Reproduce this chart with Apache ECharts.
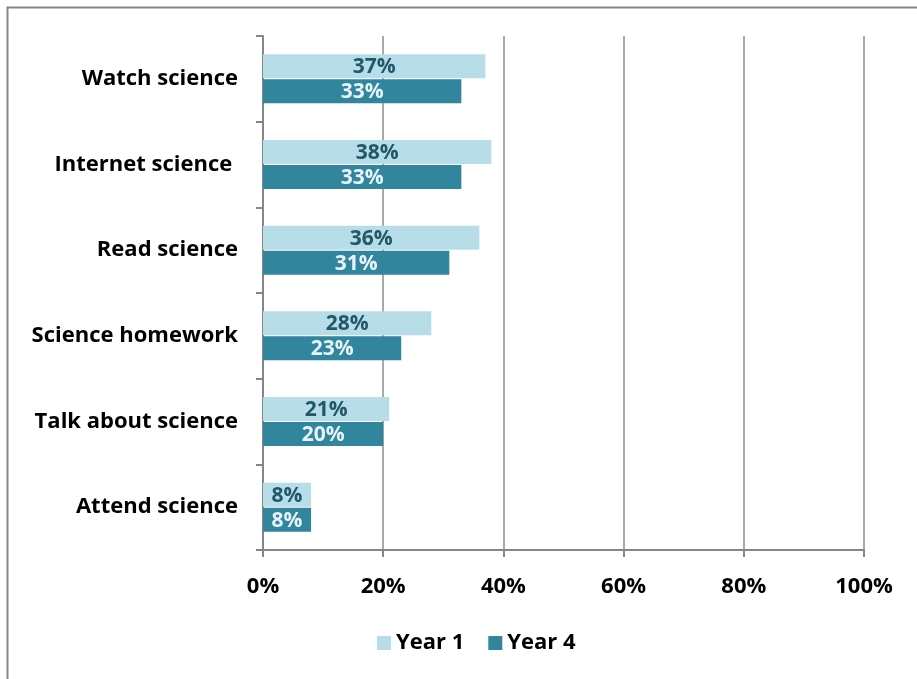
<!DOCTYPE html>
<html>
<head>
<meta charset="utf-8">
<script src="https://cdn.jsdelivr.net/npm/echarts@6/dist/echarts.min.js"></script>
<style>
  html, body { margin: 0; padding: 0; background: #fff; }
  #chart { width: 917px; height: 679px; }
</style>
</head>
<body>
<div id="chart"></div>
<script>
const categories = ['Watch science', 'Internet science ', 'Read science', 'Science homework', 'Talk about science', 'Attend science'];
const year1 = [37, 38, 36, 28, 21, 8];
const year4 = [33, 33, 31, 23, 20, 8];
const xTicks = [0, 20, 40, 60, 80, 100];

const FONT = 'Open Sans';
const chart = echarts.init(document.getElementById('chart'), null, { renderer: 'canvas' });

chart.setOption({
  animation: false,
  backgroundColor: '#fff',
  textStyle: { fontFamily: FONT },
  graphic: [{
    type: 'rect',
    shape: { x: 7.5, y: 7.5, width: 940, height: 700 },
    style: { fill: 'none', stroke: '#868686', lineWidth: 2 },
    silent: true
  }],
  grid: { left: 263, right: 53, top: 36, bottom: 129, containLabel: false },
  legend: {
    bottom: 20,
    left: 372,
    itemWidth: 14,
    itemHeight: 14,
    itemGap: 24,
    icon: 'rect',
    textStyle: { fontFamily: FONT, fontWeight: 'bold', fontSize: 22, color: '#000' },
    data: ['Year 1', 'Year 4']
  },
  xAxis: {
    type: 'value',
    min: 0,
    max: 100,
    interval: 20,
    axisLine: { show: true, lineStyle: { color: '#868686', width: 2 } },
    axisTick: { show: true, length: 7, lineStyle: { color: '#868686', width: 2 } },
    splitLine: { show: true, lineStyle: { color: '#8c8c8c', width: 1.5 } },
    axisLabel: {
      margin: 26,
      fontFamily: FONT, fontWeight: 'bold', fontSize: 22, color: '#000',
      formatter: v => xTicks.includes(v) ? v + '%' : ''
    }
  },
  yAxis: {
    type: 'category',
    inverse: true,
    data: categories,
    axisLine: { show: true, lineStyle: { color: '#868686', width: 2 } },
    axisTick: { show: true, length: 7, lineStyle: { color: '#868686', width: 2 } },
    axisLabel: {
      margin: 25,
      padding: [4, 0, 0, 0],
      fontFamily: FONT, fontWeight: 'bold', fontSize: 22, color: '#000'
    }
  },
  series: [
    {
      name: 'Year 1',
      type: 'bar',
      data: year1,
      barWidth: 24,
      barGap: '4%',
      itemStyle: { color: '#b7dde8' },
      label: {
        show: true, position: 'inside', offset: [0, 1],
        formatter: p => p.value + '%',
        fontFamily: FONT, fontWeight: 'bold', fontSize: 21, color: '#215968'
      }
    },
    {
      name: 'Year 4',
      type: 'bar',
      data: year4,
      barWidth: 24,
      itemStyle: { color: '#31859c' },
      label: {
        show: true, position: 'inside', offset: [0, 1],
        formatter: p => p.value + '%',
        fontFamily: FONT, fontWeight: 'bold', fontSize: 21, color: '#e6f3f7'
      }
    }
  ]
});
</script>
</body>
</html>
